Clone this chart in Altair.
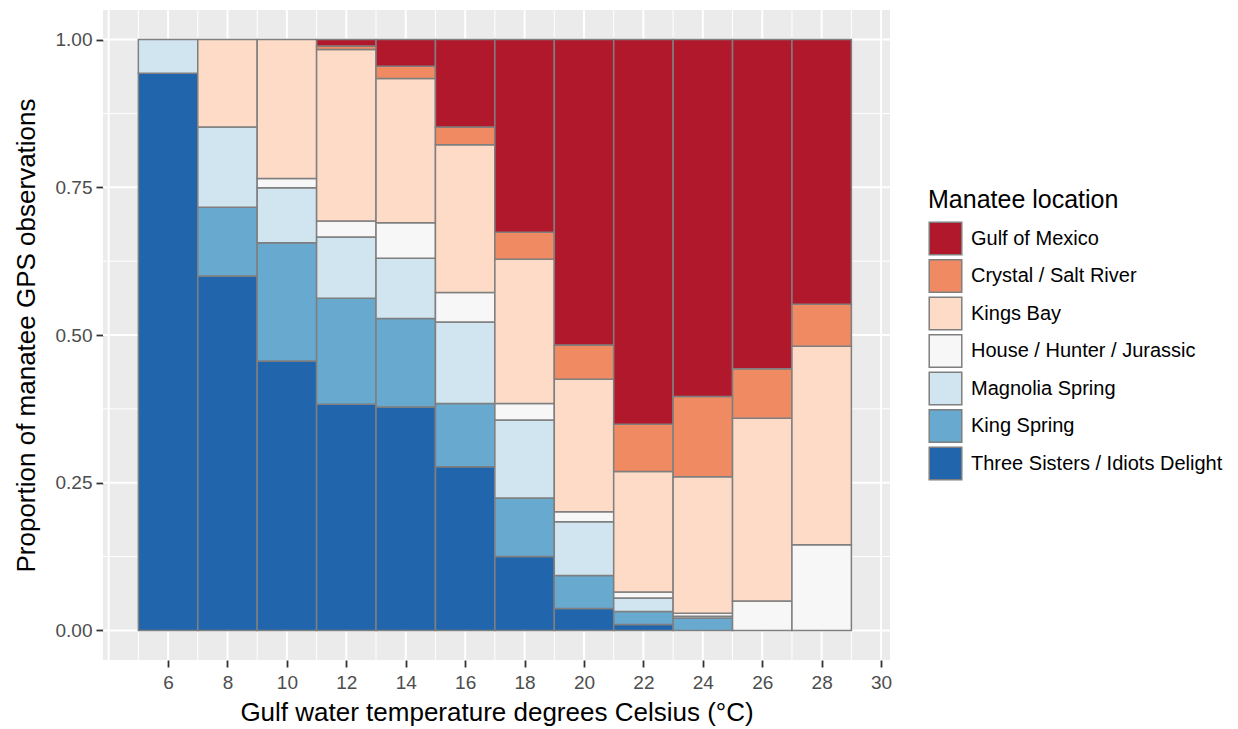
import altair as alt
import pandas as pd

# ---- data ----
temps = [6, 8, 10, 12, 14, 16, 18, 20, 22, 24, 26, 28]
categories = ["Gulf of Mexico", "Crystal / Salt River", "Kings Bay",
              "House / Hunter / Jurassic", "Magnolia Spring", "King Spring",
              "Three Sisters / Idiots Delight"]
colors = ["#B2182B", "#EF8A62", "#FDDBC7", "#F7F7F7", "#D1E5F0", "#67A9CF", "#2166AC"]

gulf_of_mexico = [0.000, 0.000, 0.000, 0.011, 0.045, 0.148, 0.326, 0.517, 0.651, 0.604, 0.557, 0.448]
crystal_salt = [0.000, 0.000, 0.000, 0.006, 0.021, 0.030, 0.046, 0.058, 0.080, 0.136, 0.084, 0.071]
kings_bay = [0.000, 0.148, 0.235, 0.290, 0.244, 0.250, 0.244, 0.224, 0.204, 0.231, 0.309, 0.336]
house_hunter = [0.000, 0.000, 0.016, 0.027, 0.060, 0.050, 0.028, 0.017, 0.010, 0.005, 0.050, 0.145]
magnolia = [0.057, 0.136, 0.093, 0.104, 0.102, 0.138, 0.132, 0.091, 0.023, 0.003, 0.000, 0.000]
king_spring = [0.000, 0.116, 0.200, 0.179, 0.150, 0.107, 0.099, 0.056, 0.022, 0.021, 0.000, 0.000]
three_sisters = [0.943, 0.600, 0.456, 0.383, 0.378, 0.277, 0.125, 0.037, 0.010, 0.000, 0.000, 0.000]

x_major = [4, 6, 8, 10, 12, 14, 16, 18, 20, 22, 24, 26, 28, 30]
x_minor = [5, 7, 9, 11, 13, 15, 17, 19, 21, 23, 25, 27, 29]
x_ticks = [6, 8, 10, 12, 14, 16, 18, 20, 22, 24, 26, 28, 30]
y_major = [0.0, 0.25, 0.5, 0.75, 1.0]
y_minor = [0.125, 0.375, 0.625, 0.875]

series = {
    categories[0]: gulf_of_mexico,
    categories[1]: crystal_salt,
    categories[2]: kings_bay,
    categories[3]: house_hunter,
    categories[4]: magnolia,
    categories[5]: king_spring,
    categories[6]: three_sisters,
}

rows = []
for i, t in enumerate(temps):
    total = sum(series[c][i] for c in categories)
    cum = 0.0
    for c in reversed(categories):
        v = series[c][i] / total
        if v > 0:
            rows.append({"lo": t - 1, "hi": t + 1, "loc": c, "y0": cum, "y1": cum + v})
        cum += v
df = pd.DataFrame(rows)

vgrid = pd.DataFrame({"g": x_major + x_minor, "w": [2.0] * len(x_major) + [1.0] * len(x_minor)})
hgrid = pd.DataFrame({"g": y_major + y_minor, "w": [2.0] * len(y_major) + [1.0] * len(y_minor)})

W, H = 787, 650
FONT = "Liberation Sans"

xscale = alt.Scale(domain=[3.81, 30.3], nice=False, zero=False)
yscale = alt.Scale(domain=[-0.05, 1.05], nice=False, zero=False)

x_axis = alt.Axis(values=x_ticks, title="Gulf water temperature degrees Celsius (°C)",
                  grid=False, domain=False, tickColor="#333333", tickWidth=1.8, tickSize=7,
                  labelColor="#4D4D4D", labelFontSize=19, labelFont=FONT, labelPadding=6,
                  titleFont=FONT, titleFontSize=26, titleFontWeight="normal", titleColor="black",
                  titlePadding=7)
y_axis = alt.Axis(values=y_major, format=".2f", title="Proportion of manatee GPS observations",
                  grid=False, domain=False, tickColor="#333333", tickWidth=1.8, tickSize=7,
                  labelColor="#4D4D4D", labelFontSize=19, labelFont=FONT, labelPadding=4,
                  titleFont=FONT, titleFontSize=26, titleFontWeight="normal", titleColor="black",
                  titlePadding=16)

vrules = alt.Chart(vgrid).mark_rule(color="white").encode(
    x=alt.X("g:Q", scale=xscale, axis=x_axis),
    y=alt.value(0), y2=alt.value(H),
    strokeWidth=alt.StrokeWidth("w:Q", scale=None, legend=None),
)
hrules = alt.Chart(hgrid).mark_rule(color="white").encode(
    y=alt.Y("g:Q", scale=yscale, axis=y_axis),
    x=alt.value(0), x2=alt.value(W),
    strokeWidth=alt.StrokeWidth("w:Q", scale=None, legend=None),
)

bars = alt.Chart(df).mark_rect(stroke="#7F7F7F", strokeWidth=1.5).encode(
    x=alt.X("lo:Q", scale=xscale, axis=x_axis),
    x2="hi:Q",
    y=alt.Y("y0:Q", scale=yscale, axis=y_axis),
    y2="y1:Q",
    color=alt.Color("loc:N", scale=alt.Scale(domain=categories, range=colors),
                    legend=alt.Legend(title="Manatee location", orient="none",
                                      legendX=825, legendY=178,
                                      symbolType="square", symbolSize=1060,
                                      symbolStrokeColor="#7F7F7F", symbolStrokeWidth=1.5,
                                      symbolOpacity=1, rowPadding=-1.5,
                                      labelFont=FONT, labelFontSize=20, labelColor="black",
                                      labelOffset=8, labelLimit=400, titleLimit=400,
                                      titleFont=FONT, titleFontSize=25, titleFontWeight="normal",
                                      titleColor="black", titlePadding=8)),
)

chart = alt.layer(hrules, vrules, bars).properties(
    width=W, height=H,
    background="white",
    autosize=alt.AutoSizeParams(type="none"),
    padding={"left": 95, "top": 2, "right": 340, "bottom": 69},
).configure_view(stroke=None, fill="#EBEBEB")

chart.save("out.html", embed_options={"renderer": "svg", "actions": False})
